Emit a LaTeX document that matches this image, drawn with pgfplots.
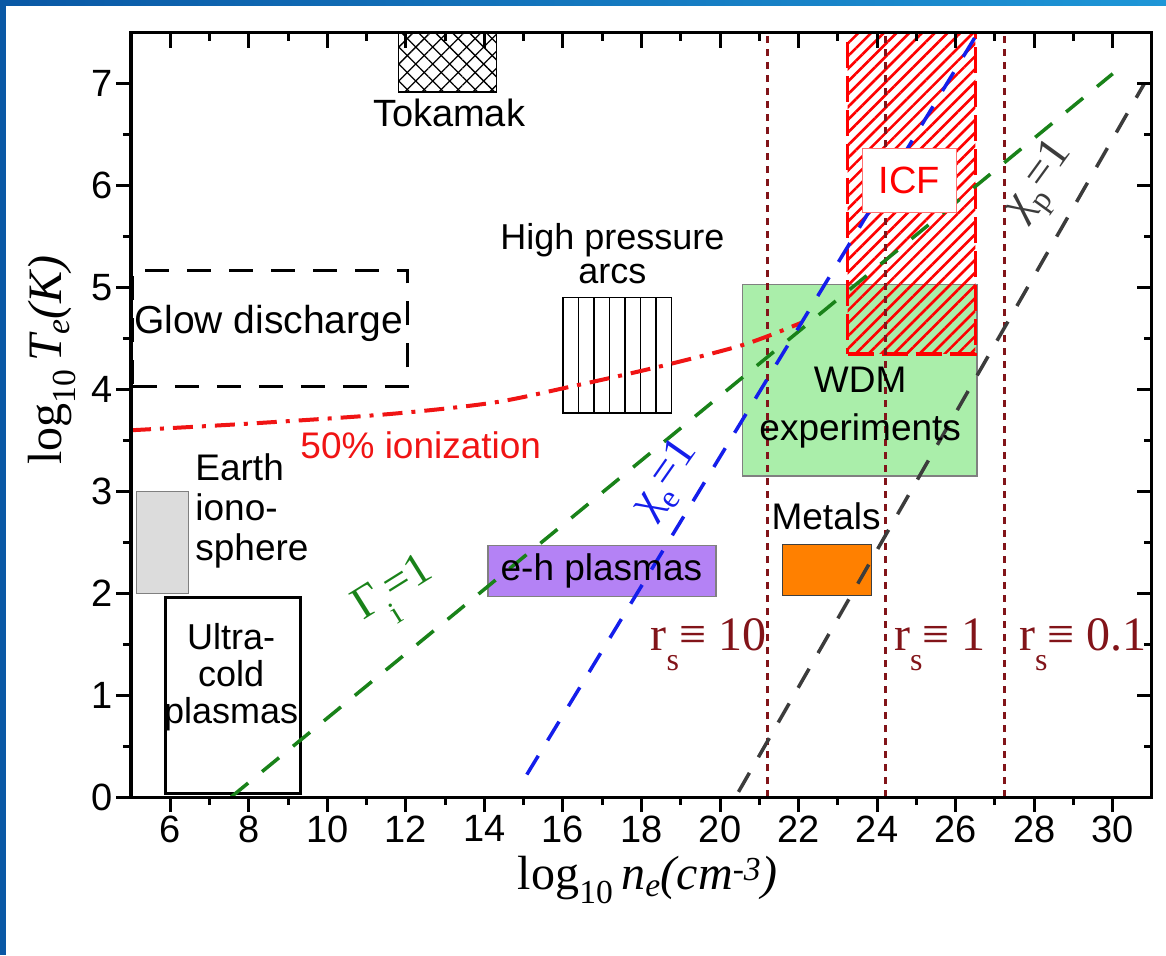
\documentclass[border=0pt]{standalone}
\usepackage{fontspec}
\setmainfont{Liberation Sans}
\newfontfamily\serif{Liberation Serif}
\usepackage{pgfplots}
\pgfplotsset{compat=1.18}
\usetikzlibrary{patterns.meta}

\definecolor{wdmgreen}{RGB}{170,238,170}
\definecolor{ehpurple}{RGB}{180,130,245}
\definecolor{metalorange}{RGB}{255,128,0}
\definecolor{iongray}{RGB}{220,220,220}
\definecolor{gammagreen}{RGB}{25,130,25}
\definecolor{chiblue}{RGB}{20,30,235}
\definecolor{chigray}{RGB}{60,60,60}
\definecolor{rsred}{RGB}{130,20,25}
\definecolor{ionred}{RGB}{240,20,20}
\definecolor{frameA}{RGB}{10,88,165}
\definecolor{frameB}{RGB}{30,150,215}

\newcommand{\lab}{\fontsize{37}{40}\selectfont}
\newcommand{\greek}{\serif\fontsize{46}{46}\selectfont}
\newcommand{\rsfont}{\serif\fontsize{48}{48}\selectfont}
% lowered subscript in the style of the figure
\newcommand{\lsub}[2][-0.42em]{\raisebox{#1}{\fontsize{32}{32}\selectfont #2}}

\begin{document}
\begin{tikzpicture}
% slide frame
\fill[left color=frameA, right color=frameB] (-131pt,791pt) rectangle (1035pt,797pt);
\fill[frameA] (-131pt,-158pt) rectangle (-125pt,797pt);

\pgfplotsset{
  regimebox/.style={
    at={(0pt,0pt)}, anchor=south west,
    scale only axis, width=1021pt, height=764pt,
    xmin=5, xmax=31, ymin=0, ymax=7.5,
    xtick={6,8,...,30}, ytick={0,1,...,7},
    minor x tick num=1, minor y tick num=1,
    axis line style={line width=3pt},
    major tick length=15pt, minor tick length=8pt,
    every tick/.style={line width=3pt, black},
  }
}

\begin{axis}[
  regimebox,
  xtick pos=left, ytick pos=left, tick align=outside,
  axis on top,
  /pgf/number format/assume math mode=true,
  ticklabel style={font=\fontsize{38}{38}\selectfont},
  xlabel={\serif\fontsize{48}{48}\selectfont log\textsubscript{10}\,\textit{n\textsubscript{e}(cm\textsuperscript{-3})}},
  ylabel={\serif\fontsize{48}{48}\selectfont log\textsubscript{10}\,\textit{T\textsubscript{e}(K)}},
  xlabel style={at={(axis description cs:0.506,0)}, anchor=center, yshift=-83pt},
  ylabel style={at={(axis description cs:-0.077,0.572)}, anchor=center, rotate=0},
]
% WDM experiments
\addplot[draw=gray, line width=1.5pt, fill=wdmgreen]
  coordinates {(20.57,3.15) (26.54,3.15) (26.54,5.03) (20.57,5.03)} -- cycle;
% ICF
\addplot[draw=red, line width=3.5pt, dash pattern=on 26pt off 8pt,
  pattern={Lines[angle=45,distance=9pt,line width=2.6pt]}, pattern color=red]
  coordinates {(23.25,4.35) (26.5,4.35) (26.5,7.8) (23.25,7.8)} -- cycle;
% Tokamak
\addplot[draw=none, pattern={Lines[angle=45,distance=12pt,line width=1.3pt]}, pattern color=black]
  coordinates {(11.82,6.92) (14.31,6.92) (14.31,7.6) (11.82,7.6)} -- cycle;
\addplot[draw=black, line width=1.3pt, pattern={Lines[angle=-45,distance=12pt,line width=1.3pt]}, pattern color=black]
  coordinates {(11.82,6.92) (14.31,6.92) (14.31,7.6) (11.82,7.6)} -- cycle;
% High pressure arcs: box with vertical rules
\addplot[draw=black, line width=1.3pt, fill=white]
  coordinates {(16.0,3.77) (18.76,3.77) (18.76,4.9) (16.0,4.9)} -- cycle;
\pgfplotsinvokeforeach{16.39,16.79,17.19,17.58,17.98,18.37}{
  \addplot[black, line width=1.3pt] coordinates {(#1,3.77) (#1,4.9)};
}
% Glow discharge
\addplot[draw=black, line width=3pt, dash pattern=on 24pt off 18pt]
  coordinates {(5.05,4.03) (12.05,4.03) (12.05,5.17) (5.05,5.17)} -- cycle;
% Earth ionosphere
\addplot[draw=gray, line width=1.3pt, fill=iongray]
  coordinates {(5.14,2.0) (6.46,2.0) (6.46,3.0) (5.14,3.0)} -- cycle;
% Ultracold plasmas
\addplot[draw=black, line width=3pt, fill=white]
  coordinates {(5.87,0.03) (9.31,0.03) (9.31,1.96) (5.87,1.96)} -- cycle;
% e-h plasmas
\addplot[draw=gray, line width=1.3pt, fill=ehpurple]
  coordinates {(14.09,1.97) (19.9,1.97) (19.9,2.47) (14.09,2.47)} -- cycle;
% Metals
\addplot[draw=darkgray, line width=1.3pt, fill=metalorange]
  coordinates {(21.59,1.98) (23.85,1.98) (23.85,2.48) (21.59,2.48)} -- cycle;

% r_s = const lines
\addplot[rsred, line width=3pt, dash pattern=on 7pt off 6pt] coordinates {(21.22,0) (21.22,7.5)};
\addplot[rsred, line width=3pt, dash pattern=on 7pt off 6pt] coordinates {(24.22,0) (24.22,7.5)};
\addplot[rsred, line width=3pt, dash pattern=on 7pt off 6pt] coordinates {(27.25,0) (27.25,7.5)};

% 50% ionization
\addplot[ionred, line width=4pt, smooth, dash pattern=on 20pt off 9pt on 4pt off 9pt]
  coordinates {(5,3.60) (8.2,3.67) (11.6,3.76) (14.2,3.87) (16.1,4.02) (18.4,4.22) (20.6,4.44) (22.1,4.66)};
% Gamma_i = 1
\addplot[gammagreen, line width=3.5pt, dash pattern=on 22pt off 18pt]
  coordinates {(7.55,0) (30.0,7.1)};
% chi_e = 1
\addplot[chiblue, line width=3.5pt, dash pattern=on 22pt off 18pt]
  coordinates {(15.08,0.22) (26.56,7.5)};
% chi_p = 1
\addplot[chigray, line width=3.5pt, dash pattern=on 22pt off 18pt]
  coordinates {(20.47,0.05) (30.8,7.0)};

% region labels
\node[font=\fontsize{38}{38}\selectfont] at (axis cs:13.1,6.72) {Tokamak};
\node[draw=red!55, line width=1.2pt, fill=white, text=red, font=\fontsize{38}{38}\selectfont,
      minimum width=94pt, minimum height=64pt] at (axis cs:24.82,6.05) {ICF};
\node[font=\fontsize{39}{39}\selectfont] at (axis cs:8.5,4.65) {Glow discharge};
\node[font=\fontsize{36}{34}\selectfont, align=center] at (axis cs:17.26,5.33) {High pressure\\arcs};
\node[font=\fontsize{37}{48}\selectfont, align=center] at (axis cs:23.57,3.82) {WDM\\experiments};
\node[font=\fontsize{37}{40}\selectfont, align=left, anchor=west] at (axis cs:6.55,2.81) {Earth\\iono-\\sphere};
\node[font=\fontsize{36}{37}\selectfont, align=center] at (axis cs:7.55,1.18) {Ultra-\\cold\\plasmas};
\node[font=\lab] at (axis cs:16.98,2.22) {e-h plasmas};
\node[font=\lab] at (axis cs:22.7,2.76) {Metals};
\node[font=\lab, text=ionred] at (axis cs:12.38,3.45) {50\% ionization};

% r_s labels
\node[font=\rsfont, text=rsred, anchor=base west, inner sep=0pt] at (axis cs:18.23,1.44) {r\lsub{s}≡ 10};
\node[font=\rsfont, text=rsred, anchor=base west, inner sep=0pt] at (axis cs:24.43,1.44) {r\lsub{s}≡ 1};
\node[font=\rsfont, text=rsred, anchor=base west, inner sep=0pt] at (axis cs:27.61,1.44) {r\lsub{s}≡ 0.1};

% line labels
\node[font=\greek, text=gammagreen, rotate=32] at (axis cs:11.77,1.99) {Γ\lsub[-0.45em]{i}=1};
\node[font=\greek, text=chiblue, rotate=55] at (axis cs:18.66,3.11) {χ\lsub[-0.3em]{e}=1};
\node[font=\greek, text=chigray, rotate=54] at (axis cs:28.22,6.02) {χ\lsub[-0.3em]{p}=1};
\end{axis}

% mirrored ticks on top and right
\begin{axis}[
  regimebox,
  xtick pos=right, ytick pos=right, tick align=inside,
  xticklabels={}, yticklabels={},
]
\end{axis}

\pgfresetboundingbox
\path[use as bounding box] (-131pt,-158pt) rectangle (1035pt,797pt);
\end{tikzpicture}
\end{document}
